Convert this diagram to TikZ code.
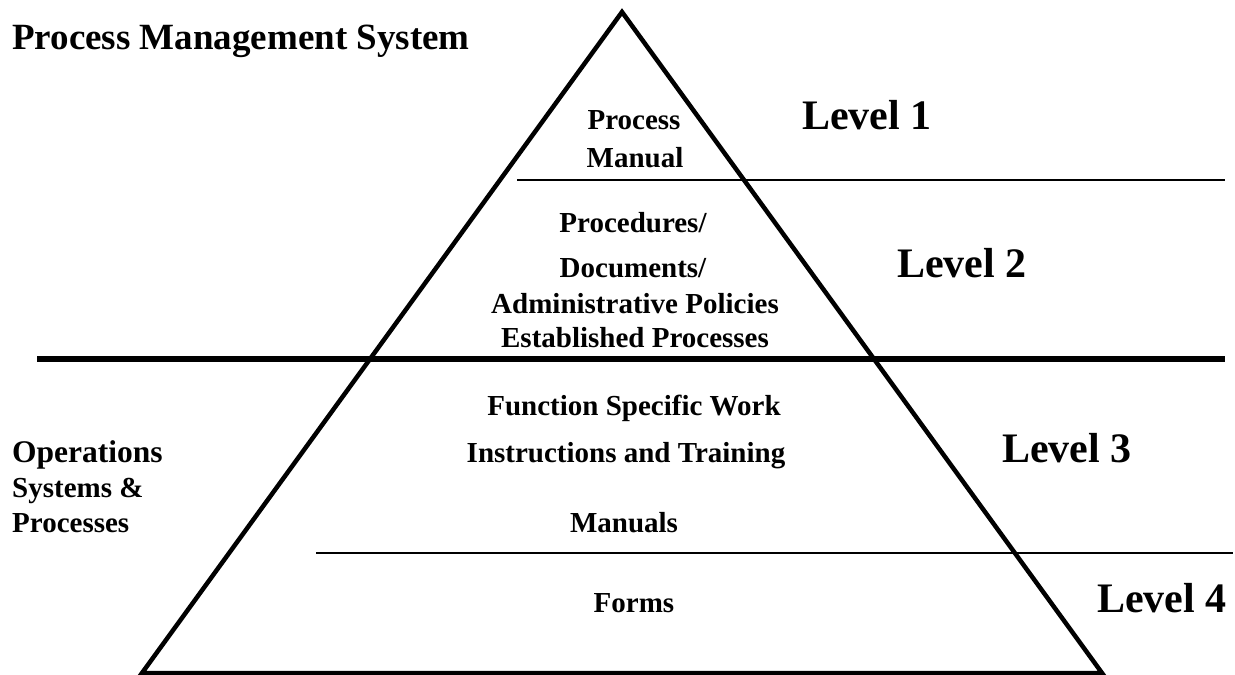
\documentclass[tikz,border=0pt]{standalone}
\usepackage{fontspec}
\setmainfont{Liberation Serif}
\usetikzlibrary{positioning}

\begin{document}
\begin{tikzpicture}[x=1pt, y=-1pt,
  itemtext/.style={font=\bfseries\fontsize{29}{29}\selectfont, inner sep=0pt, anchor=base},
  sidetext/.style={font=\bfseries\fontsize{29}{29}\selectfont, inner sep=0pt, anchor=base west},
  leveltext/.style={font=\bfseries\fontsize{42}{42}\selectfont, inner sep=0pt, anchor=base west},
  thinrule/.style={line width=1.6pt},
  thickrule/.style={line width=5.5pt},
  pyramid/.style={line width=4.5pt, line join=miter}]

  \useasboundingbox (0,0) rectangle (1235,675);

  % the pyramid
  \coordinate (top) at (622,12);
  \coordinate (left) at (142,673);
  \coordinate (right) at (1102,673);
  \draw[pyramid] (top) -- (left) -- (right) -- cycle;

  % level separators
  \coordinate (r1a) at (517,180);  \coordinate (r1b) at (1225,180);
  \coordinate (r2a) at (37,359);   \coordinate (r2b) at (1225,359);
  \coordinate (r3a) at (316,553);  \coordinate (r3b) at (1233,553);
  \draw[thinrule] (r1a) -- (r1b);
  \draw[thickrule] (r2a) -- (r2b);
  \draw[thinrule] (r3a) -- (r3b);

  % side titles
  \node[sidetext, font=\bfseries\fontsize{37}{37}\selectfont] (pms) at (12,49) {Process Management System};
  \node[sidetext, font=\bfseries\fontsize{31.5}{31.5}\selectfont] (ops) at (12,462) {Operations};
  \node[sidetext] (sys) at (12,497) {Systems \&};
  \node[sidetext] (proc) at (12,532) {Processes};

  % level 1
  \node[itemtext] (pm1) at (634,129) {Process};
  \node[itemtext] (pm2) at (635,167) {Manual};
  \node[leveltext] (lv1) at (802,129) {Level 1};

  % level 2
  \node[itemtext] (pd1) at (633,232) {Procedures/};
  \node[itemtext] (pd2) at (633,277) {Documents/};
  \node[itemtext] (pd3) at (635,313) {Administrative Policies};
  \node[itemtext] (pd4) at (635,347) {Established Processes};
  \node[leveltext] (lv2) at (897,277) {Level 2};

  % level 3
  \node[itemtext] (wi1) at (634,415) {Function Specific Work};
  \node[itemtext] (wi2) at (626,462) {Instructions and Training};
  \node[itemtext] (wi3) at (624,532) {Manuals};
  \node[leveltext] (lv3) at (1002,462) {Level 3};

  % level 4
  \node[itemtext] (fm) at (634,612) {Forms};
  \node[leveltext] (lv4) at (1097,612) {Level 4};
\end{tikzpicture}
\end{document}
